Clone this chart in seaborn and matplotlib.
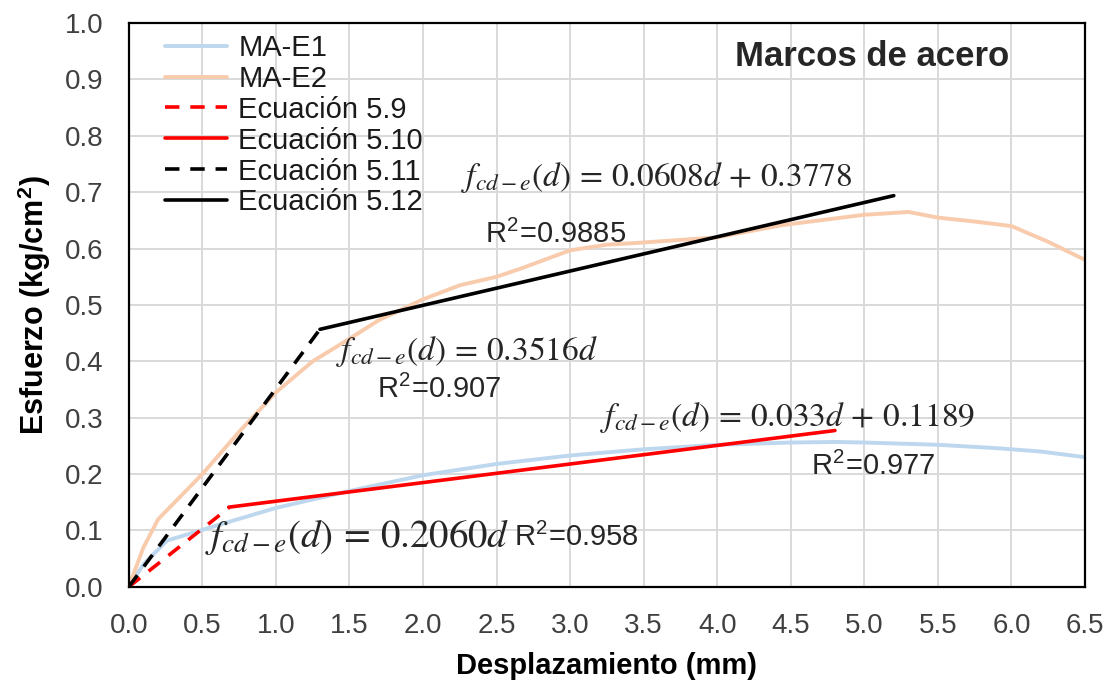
import numpy as np
import pandas as pd
import matplotlib
matplotlib.use("Agg")
import matplotlib.pyplot as plt
import seaborn as sns

# Measured stress-displacement curves
e1_disp = [0.0, 0.1, 0.26, 0.55, 1.0, 1.5, 2.0, 2.5, 3.0, 3.5, 4.0, 4.5, 4.8, 5.0, 5.5, 5.9, 6.2, 6.5]
e1_stress = [0.0, 0.04, 0.082, 0.105, 0.14, 0.17, 0.198, 0.218, 0.233, 0.244, 0.252, 0.256, 0.257, 0.256, 0.252, 0.246, 0.24, 0.23]

e2_disp = [0.0, 0.1, 0.2, 0.5, 0.75, 1.0, 1.25, 1.5, 1.7, 2.0, 2.25, 2.5, 2.68, 3.0, 3.25, 3.45, 4.0, 4.45, 5.0, 5.3, 5.5, 5.75, 6.0, 6.25, 6.5]
e2_stress = [0.0, 0.07, 0.12, 0.2, 0.275, 0.345, 0.4, 0.44, 0.473, 0.51, 0.535, 0.55, 0.566, 0.597, 0.607, 0.61, 0.62, 0.642, 0.66, 0.665, 0.655, 0.648, 0.64, 0.612, 0.58]

# Fitted equations: (slope, intercept, x_start, x_end)
eq_names = ["Ecuación 5.9", "Ecuación 5.10", "Ecuación 5.11", "Ecuación 5.12"]
eq_slopes = [0.2060, 0.033, 0.3516, 0.0608]
eq_intercepts = [0.0, 0.1189, 0.0, 0.3778]
eq_x_start = [0.0, 0.68, 0.0, 1.3]
eq_x_end = [0.68, 4.8, 1.3, 5.2]
eq_colors = ["#ff0000", "#ff0000", "#000000", "#000000"]
eq_dashed = [True, False, True, False]

x_ticks = np.arange(0, 6.51, 0.5)
y_ticks = np.arange(0, 1.01, 0.1)

sns.set_theme(style="white")
plt.rcParams["font.family"] = ["Liberation Sans", "DejaVu Sans"]
plt.rcParams["mathtext.fontset"] = "custom"
plt.rcParams["mathtext.rm"] = "STIXGeneral"
plt.rcParams["mathtext.it"] = "STIXGeneral:italic"
plt.rcParams["mathtext.bf"] = "Liberation Sans:bold"
plt.rcParams["mathtext.sf"] = "Liberation Sans"

fig = plt.figure(figsize=(11.1, 6.8), dpi=100)
ax = fig.add_axes([0.116, 0.137, 0.8615, 0.829])

df_e1 = pd.DataFrame({"d": e1_disp, "s": e1_stress})
df_e2 = pd.DataFrame({"d": e2_disp, "s": e2_stress})
sns.lineplot(data=df_e1, x="d", y="s", ax=ax, color="#bdd7ee", lw=2.8, label="MA-E1", sort=False)
sns.lineplot(data=df_e2, x="d", y="s", ax=ax, color="#f8cbad", lw=2.8, label="MA-E2", sort=False)

for name, m, b, x0, x1, c, dsh in zip(eq_names, eq_slopes, eq_intercepts,
                                      eq_x_start, eq_x_end, eq_colors, eq_dashed):
    seg = pd.DataFrame({"d": [x0, x1], "s": [m * x0 + b, m * x1 + b]})
    sns.lineplot(data=seg, x="d", y="s", ax=ax, color=c, lw=2.6, label=name, sort=False)
    if dsh:
        ax.lines[-1].set_dashes((4.0, 3.0))

ax.set_xlim(0, 6.5)
ax.set_ylim(0, 1.0)
ax.set_xticks(x_ticks)
ax.set_yticks(y_ticks)
ax.set_xticklabels([f"{v:.1f}" for v in x_ticks])
ax.set_yticklabels([f"{v:.1f}" for v in y_ticks])
ax.tick_params(axis="both", labelsize=20, colors="#404040", length=0)
ax.tick_params(axis="x", pad=19)
ax.tick_params(axis="y", pad=18)
ax.grid(True, color="#d9d9d9", lw=1.4)
ax.set_axisbelow(True)
for sp in ax.spines.values():
    sp.set_color("black")
    sp.set_linewidth(1.6)

ax.set_xlabel("Desplazamiento (mm)", fontsize=21, fontweight="bold", labelpad=9, color="black")
ax.set_ylabel("Esfuerzo (kg/cm$^\\mathbf{2}$)", fontsize=22, fontweight="bold", labelpad=9, color="black")

leg = ax.legend(loc="upper left", bbox_to_anchor=(0.02, 1.012), frameon=False, fontsize=21,
                handlelength=2.1, handletextpad=0.4, labelspacing=0.1, borderaxespad=0.2)
for t in leg.get_texts():
    t.set_color("#1a1a1a")

ax.text(4.12, 0.94, "Marcos de acero", fontsize=25, fontweight="bold", va="center", ha="left")

eq_fs = 24
r2_fs = 21
ax.text(2.26, 0.727, r"$f_{cd-e}(d)\,=\,0.0608d\,+\,0.3778$", fontsize=eq_fs, va="center")
ax.text(2.42, 0.624, r"R$^{\mathsf{2}}$=0.9885", fontsize=r2_fs, va="center")
ax.text(1.41, 0.417, r"$f_{cd-e}(d)\,=\,0.3516d$", fontsize=eq_fs, va="center")
ax.text(1.69, 0.349, r"R$^{\mathsf{2}}$=0.907", fontsize=r2_fs, va="center")
ax.text(3.2, 0.300, r"$f_{cd-e}(d)\,=\,0.033d\,+\,0.1189$", fontsize=eq_fs, va="center")
ax.text(4.64, 0.213, r"R$^{\mathsf{2}}$=0.977", fontsize=r2_fs, va="center")
ax.text(0.52, 0.089, r"$f_{cd-e}(d)\,=\,0.2060d$", fontsize=28, va="center")
ax.text(2.62, 0.087, r"R$^{\mathsf{2}}$=0.958", fontsize=r2_fs, va="center")

fig.savefig("out.png", dpi=100)
